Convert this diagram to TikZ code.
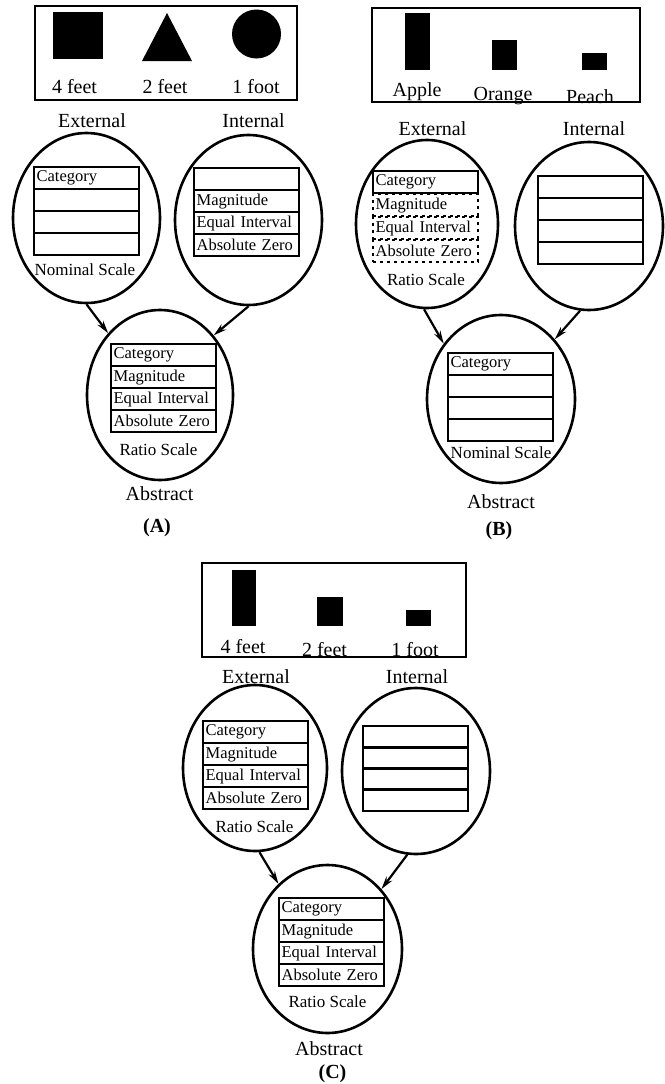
\documentclass[tikz,border=0pt]{standalone}
\usepackage{fontspec}
\setmainfont{Liberation Serif}
\usetikzlibrary{shapes.geometric, arrows.meta}

\begin{document}
\begin{tikzpicture}[x=1pt, y=-1pt,
  bubble/.style = {draw, ellipse, line width=2.6pt, inner sep=0pt},
  tabrow/.style = {draw, line width=2.2pt, anchor=north west, minimum width=105pt, minimum height=22pt,
    text width=100pt, inner xsep=2.5pt, inner ysep=0pt, align=left, font=\fontsize{16.5}{18}\selectfont},
  dashrow/.style = {tabrow, dash pattern=on 3pt off 4pt},
  scene/.style = {draw, line width=2.4pt, inner sep=0pt},
  lbl/.style = {anchor=base, inner sep=0pt, font=\fontsize{20}{22}\selectfont},
  small/.style = {anchor=base, inner sep=0pt, font=\fontsize{17}{19}\selectfont},
  feed/.style = {-{Stealth[length=13pt, width=7pt]}, line width=2.2pt}]
\useasboundingbox (0,0) rectangle (664,1084);

% (A) shapes
\node[scene, minimum width=262pt, minimum height=94pt] (aScene) at (166,53) {};
\fill (53,12) rectangle (103,59);
\fill (142,61) -- (167,13) -- (192,61) -- cycle;
\fill (256.5,34) circle (24.5);
\node[lbl] (a4ft) at (74.5,93) {4 feet};
\node[lbl] (a2ft) at (165,93) {2 feet};
\node[lbl] (a1ft) at (256,93) {1 foot};
\node[lbl] (aExtL) at (92,127) {External};
\node[lbl] (aIntL) at (253.5,127) {Internal};

\node[bubble, minimum width=147pt, minimum height=170pt] (aExt) at (86.5,218) {};
\node[bubble, minimum width=147pt, minimum height=170pt] (aInt) at (248.5,220) {};
\node[bubble, minimum width=146pt, minimum height=170pt] (aAbs) at (160,395) {};
\foreach \i/\t in {1/Category, 2/{}, 3/{}, 4/{}}
  \node[tabrow] (aE\i) at (33, {166+22*(\i-1)}) {\t};
\foreach \i/\t in {1/{}, 2/Magnitude, 3/Equal Interval, 4/Absolute Zero}
  \node[tabrow] (aI\i) at (193, {167+22*(\i-1)}) {\t};
\foreach \i/\t in {1/Category, 2/Magnitude, 3/Equal Interval, 4/Absolute Zero}
  \node[tabrow] (aA\i) at (110, {343+22*(\i-1)}) {\t};
\node[small] (aExtS) at (85,275) {Nominal Scale};
\node[small] (aAbsS) at (158.5,455) {Ratio Scale};
\node[lbl] (aAbsL) at (159.5,500) {Abstract};
\node[lbl, font=\fontsize{20}{22}\selectfont\bfseries] (aTag) at (157,532) {(A)};
\draw[feed] (aExt.-90) -- (aAbs.130);
\draw[feed] (aInt.-90) -- (aAbs.48);

% (B) fruit
\node[scene, minimum width=268pt, minimum height=94pt] (bScene) at (506,55) {};
\fill (405,13) rectangle (430,70);
\fill (492,40) rectangle (517,70);
\fill (582,53) rectangle (607,70);
\node[lbl] (bApple) at (417,96) {Apple};
\node[lbl] (bOrange) at (503,100) {Orange};
\node[lbl] (bPeach) at (590,103) {Peach};
\node[lbl] (bExtL) at (432.5,135) {External};
\node[lbl] (bIntL) at (594,135) {Internal};

\node[bubble, minimum width=142pt, minimum height=168pt] (bExt) at (427,224) {};
\node[bubble, minimum width=148pt, minimum height=168pt] (bInt) at (589,226) {};
\node[bubble, minimum width=148pt, minimum height=168pt] (bAbs) at (501,399) {};
\foreach \i/\t in {2/Magnitude, 3/Equal Interval, 4/Absolute Zero}
  \node[dashrow] (bE\i) at (372, {170+23*(\i-1)}) {\t};
\node[tabrow] (bE1) at (372,170) {Category};
\foreach \i in {1,...,4}
  \node[tabrow] (bI\i) at (537, {175+22*(\i-1)}) {};
\foreach \i/\t in {1/Category, 2/{}, 3/{}, 4/{}}
  \node[tabrow] (bA\i) at (447, {352+22*(\i-1)}) {\t};
\node[small] (bExtS) at (426,285) {Ratio Scale};
\node[small] (bAbsS) at (501,458) {Nominal Scale};
\node[lbl] (bAbsL) at (501,508) {Abstract};
\node[lbl, font=\fontsize{20}{22}\selectfont\bfseries] (bTag) at (499,535) {(B)};
\draw[feed] (bExt.-92) -- (bAbs.136);
\draw[feed] (bInt.-96) -- (bAbs.48);

% (C) bars
\node[scene, minimum width=264pt, minimum height=94pt] (cScene) at (334,610) {};
\fill (232,570) rectangle (256,626);
\fill (317,597) rectangle (343,626);
\fill (406,610) rectangle (431,626);
\node[lbl] (c4ft) at (243,653) {4 feet};
\node[lbl] (c2ft) at (324.5,656) {2 feet};
\node[lbl] (c1ft) at (415,656) {1 foot};
\node[lbl] (cExtL) at (256,683) {External};
\node[lbl] (cIntL) at (417,683) {Internal};

\node[bubble, minimum width=144pt, minimum height=166pt] (cExt) at (255,768) {};
\node[bubble, minimum width=148pt, minimum height=166pt] (cInt) at (416,771) {};
\node[bubble, minimum width=149pt, minimum height=168pt] (cAbs) at (327.5,949) {};
\foreach \i/\t in {1/Category, 2/Magnitude, 3/Equal Interval, 4/Absolute Zero}
  \node[tabrow] (cE\i) at (202, {720+22*(\i-1)}) {\t};
\foreach \i in {1,...,4}
  \node[tabrow] (cI\i) at (362, {725+21*(\i-1)}) {};
\foreach \i/\t in {1/Category, 2/Magnitude, 3/Equal Interval, 4/Absolute Zero}
  \node[tabrow] (cA\i) at (278, {897+22*(\i-1)}) {\t};
\node[small] (cExtS) at (254.5,832) {Ratio Scale};
\node[small] (cAbsS) at (327.5,1007) {Ratio Scale};
\node[lbl] (cAbsL) at (329,1055) {Abstract};
\node[lbl, font=\fontsize{20}{22}\selectfont\bfseries] (cTag) at (332.5,1078) {(C)};
\draw[feed] (cExt.-87) -- (cAbs.127);
\draw[feed] (cInt.-96) -- (cAbs.48);
\end{tikzpicture}
\end{document}
